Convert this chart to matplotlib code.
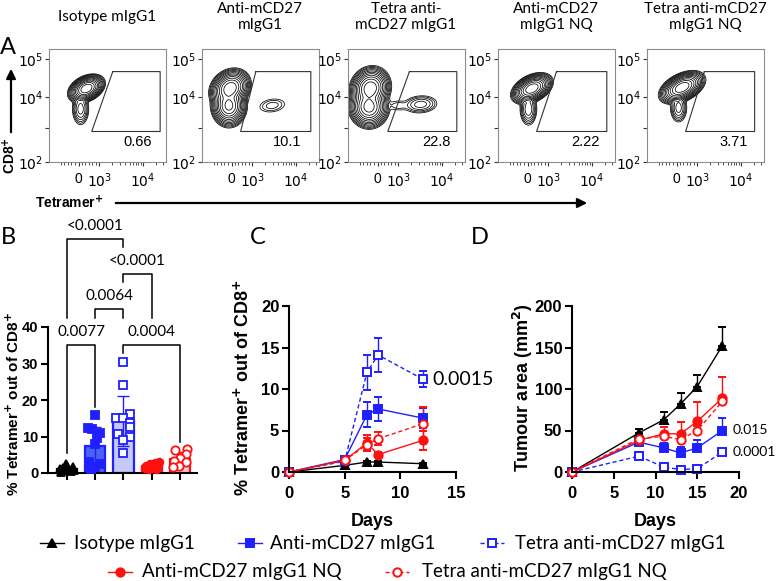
import matplotlib
matplotlib.use('Agg')
import matplotlib.pyplot as plt
import numpy as np

W, H = 776, 581
plt.rcParams['font.family'] = ['Liberation Sans', 'DejaVu Sans']
plt.rcParams['mathtext.fontset'] = 'dejavusans'

# ---------------- panel A : flow plots ----------------
flow_titles = ['Isotype mIgG1', 'Anti-mCD27\nmIgG1', 'Tetra anti-\nmCD27 mIgG1',
               'Anti-mCD27\nmIgG1 NQ', 'Tetra anti-mCD27\nmIgG1 NQ']
flow_pct = ['0.66', '10.1', '22.8', '2.22', '3.71']
# populations: x, y, sd x, sd y, corr, peak (axis fraction units)
flow_pops = [
    [(0.32, 0.65, 0.04, 0.032, 0.35, 1.0), (0.27, 0.47, 0.025, 0.05, 0.0, 0.012)],
    [(0.24, 0.65, 0.045, 0.045, 0.2, 1.0), (0.23, 0.50, 0.04, 0.05, 0.0, 0.7),
     (0.60, 0.50, 0.055, 0.03, 0.2, 0.0015)],
    [(0.19, 0.65, 0.045, 0.05, 0.1, 1.0), (0.18, 0.49, 0.045, 0.05, 0.0, 0.8),
     (0.62, 0.51, 0.055, 0.03, 0.1, 0.006), (0.43, 0.50, 0.05, 0.025, 0.0, 0.0008)],
    [(0.29, 0.65, 0.045, 0.035, 0.4, 1.0), (0.26, 0.47, 0.025, 0.05, 0.0, 0.015)],
    [(0.30, 0.66, 0.05, 0.037, 0.45, 1.0), (0.27, 0.48, 0.025, 0.045, 0.0, 0.012)],
]
gate_tl = [0.545, 0.46, 0.525, 0.50, 0.49]
gate_bl = [0.365, 0.33, 0.34, 0.33, 0.33]
gate_r = [0.95, 0.93, 0.93, 0.93, 0.92]
pct_x = [0.76, 0.73, 0.76, 0.75, 0.74]

# ---------------- panel B ----------------
b_mean = [1.2, 7.5, 14.3, 2.0, 3.9]
b_sd = [0.7, 5.0, 6.8, 0.7, 1.8]
b_pts = [[0.3, 0.5, 0.7, 0.9, 1.0, 1.2, 1.4, 1.6, 2.0, 2.6],
         [16.0, 12.4, 12.0, 11.0, 9.6, 7.9, 3.0, 2.4, 1.6, 1.0],
         [30.5, 24.0, 16.2, 15.2, 15.0, 13.8, 12.5, 10.6, 10.0, 9.0, 5.6],
         [3.1, 2.8, 2.5, 2.2, 2.0, 1.8, 1.5, 1.2, 1.0],
         [6.5, 6.3, 5.1, 4.0, 3.4, 3.0, 2.0, 1.6]]
b_off = [[-0.2, 0.15, -0.05, 0.25, -0.25, 0.05, -0.15, 0.2, 0.0, -0.02],
         [0.0, -0.27, -0.1, 0.18, 0.05, 0.0, -0.22, 0.18, 0.0, -0.15],
         [0.0, 0.0, 0.22, -0.25, 0.0, 0.22, 0.24, -0.2, 0.22, 0.0, 0.0],
         [0.25, 0.12, -0.05, 0.2, -0.2, 0.05, -0.25, 0.15, -0.1],
         [0.25, -0.17, 0.2, 0.0, -0.22, 0.22, -0.05, -0.25]]
b_brackets = [(0, 1, 35, 5.5, 18, '0.0077'),
              (2, 4, 35, 33, 8.5, '0.0004'),
              (1, 2, 45, 42.5, 42.5, '0.0064'),
              (2, 3, 54.5, 52.3, 42.5, '<0.0001'),
              (0, 2, 64, 42.5, 62, '<0.0001')]

# ---------------- panel C ----------------
days_c = [0, 5, 7, 8, 12]
c_vals = [[0, 0.8, 1.2, 1.2, 1.0],
          [0, 1.5, 6.9, 7.6, 6.5],
          [0, 1.3, 12.0, 14.1, 11.2],
          [0, 1.4, 3.5, 2.1, 3.8],
          [0, 1.4, 3.3, 4.0, 5.8]]
c_err = [[0, 0.1, 0.1, 0.1, 0.1],
         [0, 0.2, 1.5, 1.4, 1.2],
         [0, 0.2, 2.1, 2.0, 1.0],
         [0, 0.2, 0.9, 0.3, 1.1],
         [0, 0.2, 0.8, 0.8, 2.0]]

# ---------------- panel D ----------------
days_d = [0, 8, 11, 13, 15, 18]
d_vals = [[0, 47, 63, 82, 103, 152],
          [0, 36, 29, 23, 29, 50],
          [0, 19, 6, 3, 4, 24],
          [0, 38, 46, 46, 61, 89],
          [0, 40, 43, 39, 50, 85]]
d_err = [[0, 5, 9, 13, 14, 23],
         [0, 4, 6, 7, 10, 15],
         [0, 3, 2, 1, 1, 3],
         [0, 4, 8, 14, 23, 26],
         [0, 3, 4, 8, 5, 6]]

groups = ['Isotype mIgG1', 'Anti-mCD27 mIgG1', 'Tetra anti-mCD27 mIgG1',
          'Anti-mCD27 mIgG1 NQ', 'Tetra anti-mCD27 mIgG1 NQ']
blue = '#1f1fff'
red = '#ff1010'
s_col = ['black', blue, blue, red, red]
s_mark = ['^', 's', 's', 'o', 'o']
s_mfc = ['black', blue, 'white', red, 'white']
s_ls = ['-', '-', (0, (3, 2)), '-', (0, (3, 2))]
b_fill = ['#505050', '#4a63f5', '#c4c9f8', '#ff6b6b', '#ffd0d0']

fig = plt.figure(figsize=(W / 100, H / 100), dpi=100)


def px(l, t, r, b):
    return [l / W, 1 - b / H, (r - l) / W, (b - t) / H]


# flow plots
flow_left = [49, 202, 348, 498, 647]
gx = np.linspace(0, 1, 300)
GX, GY = np.meshgrid(gx, gx)
levels = [0.5 ** k for k in range(12, 0, -1)]
flow_minor = [0.10, 0.13, 0.16, 0.19, 0.22, 0.28, 0.31, 0.34, 0.37, 0.40]
flow_minor += [0.43 + 0.37 * np.log10(k) for k in range(2, 10)]
flow_minor += [0.80 + 0.37 * np.log10(k) for k in (2, 3)]
for i in range(5):
    l = flow_left[i]
    ax = fig.add_axes(px(l, 49, l + 117, 162))
    Z = np.zeros_like(GX)
    for (cx, cy, sx, sy, r, pk) in flow_pops[i]:
        dx = (GX - cx) / sx
        dy = (GY - cy) / sy
        Z += pk * np.exp(-0.5 / (1 - r * r) * (dx * dx - 2 * r * dx * dy + dy * dy))
    ax.contour(GX, GY, Z, levels=levels, colors='k', linewidths=0.55)
    ax.plot([gate_tl[i], gate_r[i], gate_r[i], gate_bl[i], gate_tl[i]],
            [0.8, 0.8, 0.27, 0.27, 0.8], color='#333333', lw=0.8)
    ax.text(pct_x[i], 0.18, flow_pct[i], ha='center', va='center', fontsize=10.5)
    ax.set_xlim(0, 1)
    ax.set_ylim(0, 1)
    for sp in ax.spines.values():
        sp.set_color('#8c8c8c')
        sp.set_linewidth(0.8)
    ax.set_yticks([0, 0.30, 0.575, 0.91], [r'$10^2$', '', r'$10^4$', r'$10^5$'])
    ax.set_xticks([0.254, 0.43, 0.80], ['0', r'$10^3$', r'$10^4$'])
    ax.set_xticks(flow_minor, minor=True)
    ax.tick_params(axis='both', length=3, width=0.8, color='#333333', labelsize=10)
    ax.tick_params(axis='x', pad=4)
    ax.tick_params(axis='y', pad=1)
    ax.tick_params(axis='x', which='minor', length=2, width=0.6, color='#333333')

# panel B
axb = fig.add_axes(px(48, 327, 197, 473))
xb = np.arange(5)
axb.bar(xb, b_mean, width=0.72, color=b_fill, edgecolor=s_col, linewidth=1.6, zorder=1)
for i in range(5):
    axb.errorbar(xb[i], b_mean[i], yerr=b_sd[i], fmt='none', ecolor=s_col[i],
                 elinewidth=1, capsize=4, capthick=1, zorder=2)
    axb.plot(i + np.array(b_off[i]), b_pts[i], ls='none', marker=s_mark[i],
             mfc=s_mfc[i], mec=s_col[i], ms=5.5 if s_mfc[i] != 'white' else 6,
             mew=1.3, clip_on=False, zorder=3)
for (i, j, top, yl, yr, lab) in b_brackets:
    axb.plot([i, i, j, j], [yl, top, top, yr], color='black', lw=1.1, clip_on=False)
    axb.text((i + j) / 2, top + 3.6, lab, ha='center', va='center', fontsize=11,
             family='Lato', clip_on=False)
axb.set_xlim(-0.67, 4.6)
axb.set_ylim(0, 40)
axb.set_yticks([0, 10, 20, 30, 40])
axb.set_xticks(xb, [''] * 5)

# panel C
axc = fig.add_axes(px(289, 306, 456, 472))
for k in range(5):
    axc.errorbar(days_c, c_vals[k], yerr=c_err[k], color=s_col[k], ls=s_ls[k], lw=1,
                 marker=s_mark[k], mfc=s_mfc[k], mec=s_col[k], ms=6, mew=1.4,
                 elinewidth=1, capsize=3, capthick=1, clip_on=False)
axc.text(12.9, 11.2, '0.0015', fontsize=14, family='Lato', va='center', ha='left')
axc.set_xlim(0, 15)
axc.set_ylim(0, 20)
axc.set_xticks([0, 5, 10, 15])
axc.set_yticks([0, 5, 10, 15, 20])

# panel D
axd = fig.add_axes(px(572, 306, 739, 472))
for k in range(5):
    axd.errorbar(days_d, d_vals[k], yerr=[np.zeros(6), d_err[k]], color=s_col[k],
                 ls=s_ls[k], lw=1, marker=s_mark[k], mfc=s_mfc[k], mec=s_col[k],
                 ms=6, mew=1.4, elinewidth=1, capsize=3, capthick=1, clip_on=False)
axd.text(19.2, 50, '0.015', fontsize=10, family='Lato', va='center', ha='left')
axd.text(19.2, 24, '0.0001', fontsize=10, family='Lato', va='center', ha='left')
axd.set_xlim(0, 20)
axd.set_ylim(0, 200)
axd.set_xticks([0, 5, 10, 15, 20])
axd.set_yticks([0, 50, 100, 150, 200])

for ax, fs in [(axb, 10.5), (axc, 12), (axd, 12)]:
    for s in ['top', 'right']:
        ax.spines[s].set_visible(False)
    for s in ['left', 'bottom']:
        ax.spines[s].set_linewidth(1.5)
    ax.tick_params(length=5, width=1.5, labelsize=fs, pad=2)
    ax.tick_params(axis='x', pad=5)
    for t in ax.get_xticklabels() + ax.get_yticklabels():
        t.set_fontweight('bold')

# overlay for labels, arrows and legend
ov = fig.add_axes([0, 0, 1, 1], zorder=10)
ov.set_facecolor('none')
ov.set_xlim(0, W)
ov.set_ylim(H, 0)
ov.axis('off')

for i in range(5):
    ov.text(flow_left[i] + 58, 17, flow_titles[i], ha='center', va='center',
            fontsize=11, family='Lato', linespacing=1.25)
for lab, x, y in [('A', 8, 47), ('B', 8, 237), ('C', 258, 238), ('D', 480, 238)]:
    ov.text(x, y, lab, ha='center', va='center', fontsize=17, family='Lato')

ov.text(69, 203, r'Tetramer$^{\mathbf{+}}$', ha='center', va='center',
        fontsize=10, fontweight='bold')
ov.annotate('', xy=(590, 203), xytext=(113, 203),
            arrowprops=dict(arrowstyle='-|>', color='black', lw=1.6, mutation_scale=14))
ov.text(10, 155, r'CD8$^{\mathbf{+}}$', ha='center', va='center', rotation=90,
        fontsize=10, fontweight='bold')
ov.annotate('', xy=(11, 66), xytext=(11, 135),
            arrowprops=dict(arrowstyle='-|>', color='black', lw=1.6, mutation_scale=14))

ylab = r'% Tetramer$^{\mathbf{+}}$ out of CD8$^{\mathbf{+}}$'
ov.text(13, 404, ylab, rotation=90, ha='center', va='center', fontsize=11, fontweight='bold')
ov.text(243, 388, ylab, rotation=90, ha='center', va='center', fontsize=13, fontweight='bold')
ov.text(523, 388, r'Tumour area (mm$^{\mathbf{2}}$)', rotation=90, ha='center',
        va='center', fontsize=13, fontweight='bold')
ov.text(372, 521, 'Days', ha='center', va='center', fontsize=13, fontweight='bold')
ov.text(655, 521, 'Days', ha='center', va='center', fontsize=13, fontweight='bold')

# legend
leg_pos = [(52, 543, 74), (250, 543, 270), (492, 543, 515), (120, 572, 142), (397, 572, 422)]
for k in range(5):
    x, y, tx = leg_pos[k]
    ov.plot([x - 12, x + 12], [y, y], color=s_col[k], ls=s_ls[k], lw=1)
    ov.plot(x, y, marker=s_mark[k], mfc=s_mfc[k], mec=s_col[k], ms=6, mew=1.4)
    ov.text(tx, y, groups[k], ha='left', va='center', fontsize=13.5, family='Lato')

fig.savefig('out.png', dpi=100)
